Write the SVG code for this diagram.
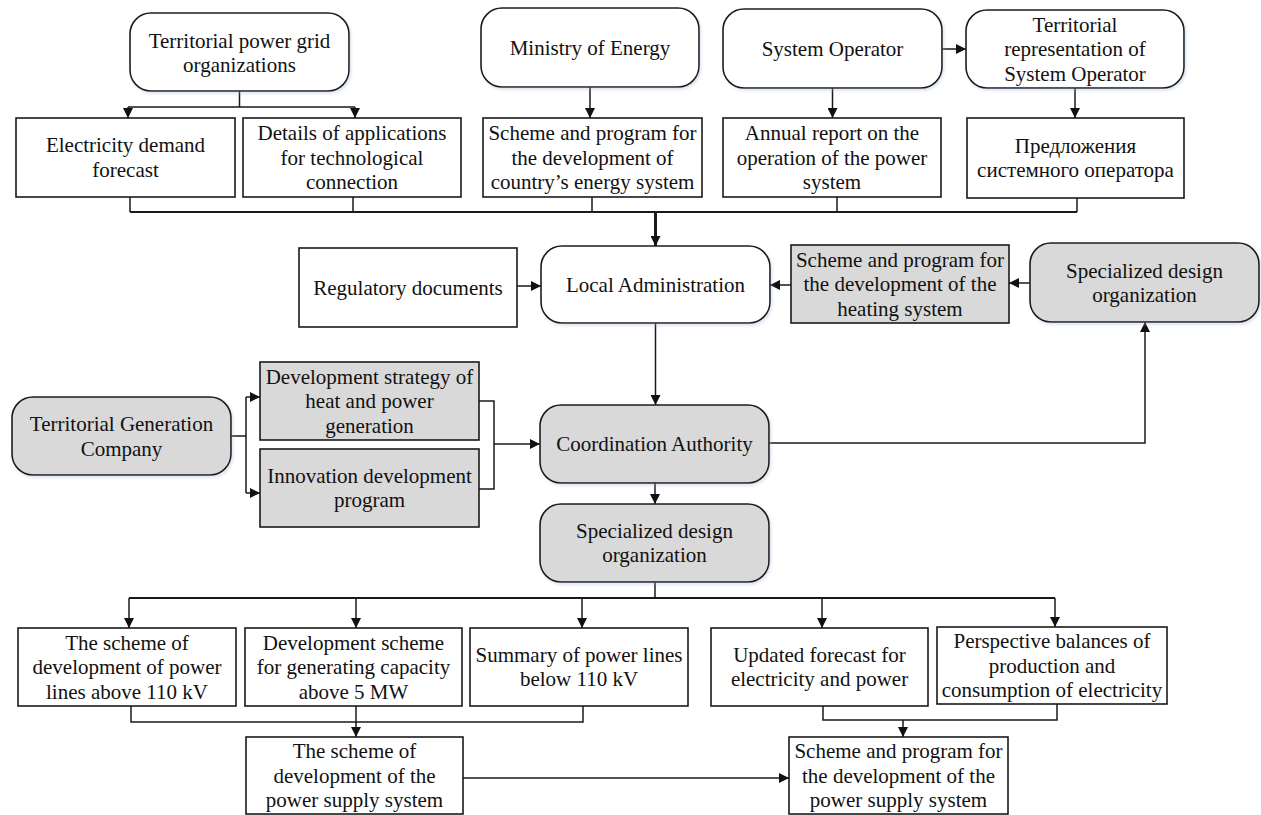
<svg xmlns="http://www.w3.org/2000/svg" width="1261" height="815" viewBox="0 0 1261 815">
<style>
text{font-family:"Liberation Serif","Times New Roman",serif;font-size:21px;fill:#111;text-anchor:middle}
.box{fill:#fff;stroke:#1a1a1a;stroke-width:1.6}
.gray{fill:#d9d9d9}
.rnd{filter:url(#sh)}
.c{fill:none;stroke:#1a1a1a;stroke-width:1.5}
.bus{stroke-width:2.2}
.thick{stroke-width:3}
.a{marker-end:url(#arr)}
</style>
<defs>
<marker id="arr" markerUnits="userSpaceOnUse" markerWidth="10" markerHeight="10" viewBox="0 0 10 10" refX="10" refY="5" orient="auto">
<path d="M0,0 L10,5 L0,10 z" fill="#111"/>
</marker>
<filter id="sh" x="-10%" y="-10%" width="125%" height="130%">
<feDropShadow dx="1.5" dy="2" stdDeviation="1.8" flood-color="#9db4d0" flood-opacity="0.35"/>
</filter>
</defs>

<g id="connectors">
<path class="c" d="M239.5 91V107M128 107H355"/>
<path class="c a" d="M128 107V118"/>
<path class="c a" d="M355 107V118"/>
<path class="c a" d="M590 87V118"/>
<path class="c a" d="M832.5 88V118"/>
<path class="c a" d="M942 49H966"/>
<path class="c a" d="M1075 88V118"/>
<path class="c" d="M130 197V212M353 197V212M592 197V212M837 197V212M1077 197V212"/>
<path class="c bus" d="M130 212H1077"/>
<path class="c thick a" d="M655.5 212V246"/>
<path class="c a" d="M517 286H541"/>
<path class="c a" d="M791 285H770"/>
<path class="c a" d="M1030 283H1009"/>
<path class="c a" d="M655.5 323V405"/>
<path class="c a" d="M769 443H1145V322"/>
<path class="c" d="M231 436H246M246 397V493"/>
<path class="c a" d="M246 397H260"/>
<path class="c a" d="M246 493H260"/>
<path class="c" d="M479 401H494V489H479"/>
<path class="c a" d="M494 444H540"/>
<path class="c a" d="M655 483V504"/>
<path class="c" d="M655 582V598"/>
<path class="c bus" d="M129 598H1055"/>
<path class="c a" d="M129 598V628"/>
<path class="c a" d="M356 598V628"/>
<path class="c a" d="M582 598V628"/>
<path class="c a" d="M822 598V628"/>
<path class="c a" d="M1055 598V627"/>
<path class="c" d="M131 706V722H583V706"/>
<path class="c a" d="M356 706V737"/>
<path class="c a" d="M463 778H789"/>
<path class="c" d="M823 706V720H1057V704"/>
<path class="c a" d="M903 720V737"/>
</g>

<g id="n-tpgo"><rect class="box rnd" x="130" y="13" width="219" height="78" rx="21"/>
<text x="239.5" y="47.5">Territorial power grid</text><text x="239.5" y="72">organizations</text></g>
<g id="n-ministry"><rect class="box rnd" x="481" y="8" width="218" height="79" rx="21"/>
<text x="590" y="55">Ministry of Energy</text></g>
<g id="n-sysop"><rect class="box rnd" x="723" y="9" width="219" height="79" rx="21"/>
<text x="832.5" y="56">System Operator</text></g>
<g id="n-terrep"><rect class="box rnd" x="966" y="10" width="218" height="78" rx="21"/>
<text x="1075" y="31.5">Territorial</text><text x="1075" y="56">representation of</text><text x="1075" y="80.5">System Operator</text></g>

<g id="n-demand"><rect class="box" x="16" y="118" width="219" height="79"/>
<text x="125.5" y="152">Electricity demand</text><text x="125.5" y="176.5">forecast</text></g>
<g id="n-details"><rect class="box" x="243" y="118" width="218" height="79"/>
<text x="352" y="140">Details of applications</text><text x="352" y="164.5">for technological</text><text x="352" y="189">connection</text></g>
<g id="n-country"><rect class="box" x="483" y="118" width="219" height="79"/>
<text x="592.5" y="140">Scheme and program for</text><text x="592.5" y="164.5">the development of</text><text x="592.5" y="189">country’s energy system</text></g>
<g id="n-annual"><rect class="box" x="723" y="118" width="218" height="79"/>
<text x="832" y="140">Annual report on the</text><text x="832" y="164.5">operation of the power</text><text x="832" y="189">system</text></g>
<g id="n-predl"><rect class="box" x="967" y="118" width="217" height="80"/>
<text x="1075.5" y="152.5">Предложения</text><text x="1075.5" y="177">системного оператора</text></g>

<g id="n-regulatory"><rect class="box" x="299" y="248" width="218" height="79"/>
<text x="408" y="294.5">Regulatory documents</text></g>
<g id="n-localadmin"><rect class="box rnd" x="541" y="246" width="229" height="77" rx="21"/>
<text x="655.5" y="291.5">Local Administration</text></g>
<g id="n-heating"><rect class="box gray" x="791" y="245" width="218" height="78"/>
<text x="900" y="266.5">Scheme and program for</text><text x="900" y="291">the development of the</text><text x="900" y="315.5">heating system</text></g>
<g id="n-specdesign1"><rect class="box gray rnd" x="1030" y="243" width="229" height="79" rx="21"/>
<text x="1144.5" y="277.5">Specialized design</text><text x="1144.5" y="302">organization</text></g>

<g id="n-tgc"><rect class="box gray rnd" x="12" y="397" width="219" height="78" rx="21"/>
<text x="121.5" y="431">Territorial Generation</text><text x="121.5" y="455.5">Company</text></g>
<g id="n-strategy"><rect class="box gray" x="260" y="362" width="219" height="78"/>
<text x="369.5" y="383.5">Development strategy of</text><text x="369.5" y="408">heat and power</text><text x="369.5" y="432.5">generation</text></g>
<g id="n-innovation"><rect class="box gray" x="260" y="449" width="219" height="78"/>
<text x="369.5" y="482.5">Innovation development</text><text x="369.5" y="507">program</text></g>
<g id="n-coord"><rect class="box gray rnd" x="540" y="405" width="229" height="78" rx="21"/>
<text x="654.5" y="451">Coordination Authority</text></g>
<g id="n-specdesign2"><rect class="box gray rnd" x="540" y="504" width="229" height="78" rx="21"/>
<text x="654.5" y="537.5">Specialized design</text><text x="654.5" y="562">organization</text></g>

<g id="n-lines110"><rect class="box" x="18" y="628" width="218" height="78"/>
<text x="127" y="649.5">The scheme of</text><text x="127" y="674">development of power</text><text x="127" y="698.5">lines above 110 kV</text></g>
<g id="n-gencap"><rect class="box" x="245" y="628" width="217" height="78"/>
<text x="353.5" y="649.5">Development scheme</text><text x="353.5" y="674">for generating capacity</text><text x="353.5" y="698.5">above 5 MW</text></g>
<g id="n-summary"><rect class="box" x="470" y="628" width="218" height="78"/>
<text x="579" y="661.5">Summary of power lines</text><text x="579" y="686">below 110 kV</text></g>
<g id="n-updated"><rect class="box" x="711" y="628" width="217" height="78"/>
<text x="819.5" y="661.5">Updated forecast for</text><text x="819.5" y="686">electricity and power</text></g>
<g id="n-balances"><rect class="box" x="937" y="627" width="230" height="77"/>
<text x="1052" y="648">Perspective balances of</text><text x="1052" y="672.5">production and</text><text x="1052" y="697">consumption of electricity</text></g>

<g id="n-supplyscheme"><rect class="box" x="246" y="737" width="217" height="77"/>
<text x="354.5" y="758">The scheme of</text><text x="354.5" y="782.5">development of the</text><text x="354.5" y="807">power supply system</text></g>
<g id="n-supplyprogram"><rect class="box" x="789" y="737" width="219" height="77"/>
<text x="898.5" y="758">Scheme and program for</text><text x="898.5" y="782.5">the development of the</text><text x="898.5" y="807">power supply system</text></g>
</svg>
